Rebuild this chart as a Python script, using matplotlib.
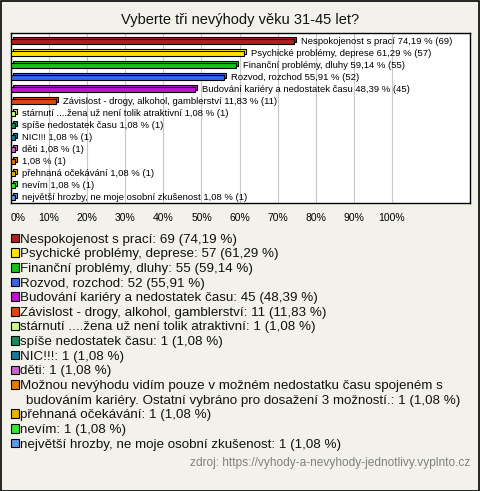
import matplotlib
matplotlib.use("Agg")
import matplotlib.pyplot as plt
from matplotlib import transforms
from matplotlib.patches import Rectangle

plt.rcParams['font.family'] = ['Liberation Sans', 'DejaVu Sans']

title = "Vyberte tři nevýhody věku 31-45 let?"
categories = [
    "Nespokojenost s prací",
    "Psychické problémy, deprese",
    "Finanční problémy, dluhy",
    "Rozvod, rozchod",
    "Budování kariéry a nedostatek času",
    "Závislost - drogy, alkohol, gamblerství",
    "stárnutí ....žena už není tolik atraktivní",
    "spíše nedostatek času",
    "NIC!!!",
    "děti",
    "Možnou nevýhodu vidím pouze v možném nedostatku času spojeném s\nbudováním kariéry. Ostatní vybráno pro dosažení 3 možností.",
    "přehnaná očekávání",
    "nevím",
    "největší hrozby, ne moje osobní zkušenost",
]
bar_names = categories[:10] + [""] + categories[11:]
counts = [69, 57, 55, 52, 45, 11, 1, 1, 1, 1, 1, 1, 1, 1]
percents = [74.19, 61.29, 59.14, 55.91, 48.39, 11.83, 1.08, 1.08, 1.08, 1.08, 1.08, 1.08, 1.08, 1.08]
colors = ["#B41E1E", "#FFE600", "#18C018", "#3C64E6", "#BE14D2", "#E04614", "#C8FA8C",
          "#148C5A", "#147896", "#C864C8", "#E6780A", "#E6B400", "#32E632", "#6496E6"]
xticks = [0, 10, 20, 30, 40, 50, 60, 70, 80, 90, 100]
source = "zdroj: https://vyhody-a-nevyhody-jednotlivy.vyplnto.cz"

W, H = 480, 491
bg = "#F3F2EA"
fig = plt.figure(figsize=(W / 100, H / 100), dpi=100, facecolor=bg)

def fx(x):
    return x / W

def fy(y):
    return 1 - y / H

# outer border
fig.patches.append(Rectangle((0.5 / W, 0.5 / H), 1 - 1.5 / W, 1 - 1.5 / H, transform=fig.transFigure,
                             fill=False, edgecolor="black", linewidth=1.2))

fig.text(0.5, fy(20), title, ha="center", va="center", fontsize=10.5, color="#111111")

ax_l, ax_r, ax_t, ax_b = 11, 470, 33, 203
ax = fig.add_axes([fx(ax_l), fy(ax_b), fx(ax_r) - fx(ax_l), fy(ax_t) - fy(ax_b)])
ax.set_facecolor("white")
n = len(percents)
ypos = list(range(n))
ax.set_xlim(0, 120.5)
ax.set_ylim(n - 0.5, -0.75)
for s in ax.spines.values():
    s.set_linewidth(1.0)
    s.set_color("black")
ax.set_xticks(xticks)
ax.set_xticklabels([f"{t}%" for t in xticks], fontsize=7.5)
ax.get_xticklabels()[0].set_horizontalalignment("left")
ax.tick_params(axis="x", length=0, pad=7)
ax.set_yticks([])
ax.grid(axis="x", color="#C8C8C8", linewidth=0.8)
ax.set_axisbelow(True)

h = 0.42
back = transforms.offset_copy(ax.transData, fig=fig, x=2, y=2, units="dots")
ax.barh(ypos, percents, height=h, color=colors, edgecolor="black", linewidth=0.8,
        transform=back, zorder=3)
ax.barh(ypos, percents, height=h, color=colors, edgecolor="black", linewidth=0.8, zorder=4)

lbl_tr = transforms.offset_copy(ax.transData, fig=fig, x=7, y=0, units="dots")
for y, v, c, nm in zip(ypos, percents, counts, bar_names):
    pct = f"{v:.2f}".replace(".", ",")
    txt = (nm + " " if nm else "") + f"{pct} % ({c})"
    ax.text(v, y, txt, transform=lbl_tr, fontsize=6.8, va="center", ha="left", zorder=5)

# legend
y0 = 238
step = 14.64
line = 0
for i, (cat, c, v, col) in enumerate(zip(categories, counts, percents, colors)):
    yc = y0 + step * line
    fig.patches.append(Rectangle((fx(10.5), fy(yc + 4.3)), 8.5 / W, 8.5 / H, transform=fig.transFigure,
                                 facecolor=col, edgecolor="black", linewidth=0.8))
    pct = f"{v:.2f}".replace(".", ",")
    full = f"{cat}: {c} ({pct} %)"
    for k, part in enumerate(full.split("\n")):
        xs = 20.5 if k == 0 else 26
        fig.text(fx(xs), fy(yc + 4.6 + k * step), part, ha="left", va="baseline",
                 fontsize=9.6, color="#111111")
    line += 1 + cat.count("\n")

fig.text(fx(470), fy(463), source, ha="right", va="center", fontsize=8.6, color="#808080")

fig.savefig("out.png", dpi=100, facecolor=bg)
